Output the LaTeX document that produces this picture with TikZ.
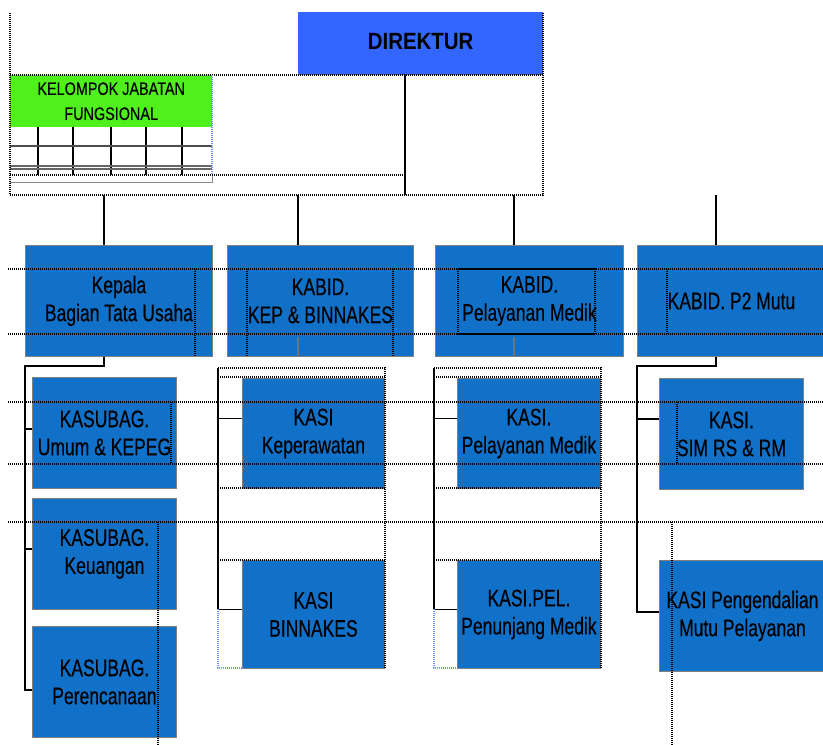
\documentclass[tikz,border=0pt]{standalone}
\usepackage{fontspec}
\setmainfont{Liberation Sans}
\newfontfamily\chartfont[FakeStretch=0.73, FakeBold=0.3]{Liberation Sans}
\newfontfamily\greenfont[FakeStretch=0.8, FakeBold=0.3]{Liberation Sans}
\newfontfamily\headfont[FakeStretch=0.87]{Liberation Sans}
\usepackage{xcolor}
\usepackage{tikz}
\usetikzlibrary{positioning}
\definecolor{dirblue}{RGB}{51,102,255}
\definecolor{unitblue}{RGB}{17,112,200}
\definecolor{jfgreen}{RGB}{80,240,28}
\definecolor{frameblue}{RGB}{110,150,230}

\tikzset{
  unit/.style={draw=black!50, line width=0.9pt, fill=unitblue, anchor=north west,
    inner sep=0pt, align=center, font=\chartfont\fontsize{24}{28}\selectfont},
  kabid/.style={unit, minimum width=187pt, minimum height=111pt},
  kasub/.style={unit, minimum width=144pt, minimum height=111pt},
  kasi/.style={unit, minimum width=143pt, minimum height=110pt},
  link/.style={line width=1.3pt},
  stub/.style={line width=1.3pt, black!55},
  guide/.style={line width=1.1pt, dash pattern=on 1pt off 1pt},
}

\begin{document}
\begin{tikzpicture}[x=1pt, y=-1pt]
\clip (0,0) rectangle (823,745);
\fill[white] (0,0) rectangle (823,745);

% top part
\node[anchor=north west, fill=dirblue, minimum width=245pt, minimum height=63pt, inner sep=0pt,
  font=\headfont\bfseries\fontsize{23.5}{28}\selectfont] (dir) at (298,12) {\raisebox{5pt}{DIREKTUR}};
\node[anchor=north west, fill=jfgreen, minimum width=202pt, minimum height=52pt, inner sep=0pt,
  align=center, font=\greenfont\fontsize{18}{25}\selectfont] (jf) at (10,75) {KELOMPOK JABATAN\\ FUNGSIONAL};

% second row
\node[kabid] (tu) at (25,245) {Kepala\\ Bagian Tata Usaha};
\node[kabid, minimum width=186pt] (kep) at (227,245) {KABID.\\ KEP \& BINNAKES};
\node[kabid, minimum width=188pt] (yan) at (435,245) {KABID.\\ Pelayanan Medik};
\node[kabid, minimum width=188pt] (mutu) at (637,245) {KABID. P2 Mutu};

% third row
\node[kasub] (umum) at (32,377) {KASUBAG.\\ Umum \& KEPEG};
\node[kasub] (keu) at (32,498) {KASUBAG.\\ Keuangan};
\node[kasub] (ren) at (32,626) {KASUBAG.\\ Perencanaan};
\node[kasi, minimum width=142pt] (kper) at (242,378) {KASI\\ Keperawatan};
\node[kasi, minimum width=142pt, minimum height=108pt] (binn) at (242,560) {KASI\\ BINNAKES};
\node[kasi] (kyan) at (457,378) {KASI.\\ Pelayanan Medik};
\node[kasi, minimum height=108pt] (kpen) at (457,560) {KASI.PEL.\\ Penunjang Medik};
\node[kasi, minimum width=144pt, minimum height=111pt] (sim) at (659,378) {KASI.\\ SIM RS \& RM};
\node[kasi, minimum width=166pt, minimum height=111pt] (pmutu) at (659,560) {KASI Pengendalian\\ Mutu Pelayanan};

% connectors
\coordinate (bus) at (405,195);
\coordinate (b1) at (104,195);
\coordinate (b2) at (298,195);
\coordinate (b3) at (514,195);
\coordinate (b4) at (716,195);
\coordinate (t1) at (25,366);
\coordinate (t2) at (218,368);
\coordinate (t3) at (434,368);
\coordinate (t4) at (637,366);
\draw[link] (dir.south -| bus) -- (bus);
\draw[link] (b1) -- (b1 |- tu.north);
\draw[link] (b2) -- (b2 |- kep.north);
\draw[link] (b3) -- (b3 |- yan.north);
\draw[link] (b4) -- (b4 |- mutu.north);

\draw[link] (tu.south -| b1) |- (t1) |- ([yshift=-8pt]ren.west);
\draw[link] ([yshift=4pt]umum.west) -| (t1);
\draw[link] ([yshift=5pt]keu.west) -| (t1);

\draw[stub] (kep.south -| b2) -- ++(0,-20);
\draw[link] (t2) |- ([yshift=5pt]binn.west);
\draw[link] ([yshift=15pt]kper.west) -| (t2);

\draw[stub] (yan.south -| b3) -- ++(0,-20);
\draw[link] (t3) |- ([yshift=5pt]kpen.west);
\draw[link] ([yshift=15pt]kyan.west) -| (t3);

\draw[link] (mutu.south -| b4) |- (t4) |- ([yshift=4pt]pmutu.west);
\draw[link] ([yshift=15pt]sim.west) -| (t4);

% grid under the green box
\foreach \gx in {38,73,111,146,182}
  \draw[line width=1.1pt] (\gx,127) -- (\gx,175);
\draw[black!70, line width=1.2pt] (10,146) -- (212,146);
\draw[black!60, line width=1.2pt] (10,166) -- (212,166) (10,169) -- (212,169);
\draw[black!45, line width=1pt] (10,182) -- (212,182) -- (212,175);

% dotted guide lines
\draw[guide] (10,13) -- (10,195) -- (543,195) -- (543,12);
\draw[guide] (10,75) -- (543,75);
\draw[guide] (10,175) -- (bus |- 0,175);
\draw[guide, frameblue] (212,75) -- (212,175);
\foreach \gy in {269,334,402,464,522}
  \draw[guide] (8,\gy) -- (823,\gy);
\draw[guide] (195,269) -- (195,356);
\draw[guide] (247,269) -- (247,356) (393,269) -- (393,356);
\draw[guide] (458,269) rectangle (595,334);
\draw[guide] (667,269) -- (667,334);
\draw[guide] (171,402) -- (171,464);
\draw[guide] (158,522) -- (158,745);
\draw[guide] (677,402) -- (677,464);
\draw[guide] (672,522) -- (672,745);
\draw[guide] (218,368) -- (385,368) -- (385,668);
\draw[guide] (218,377) -- (385,377) (218,488) -- (385,488) (218,560) -- (385,560);
\draw[guide, frameblue] (218,609) -- (218,668) -- (242,668);
\draw[guide] (434,368) -- (601,368) -- (601,668);
\draw[guide] (434,377) -- (601,377) (434,488) -- (601,488) (434,560) -- (601,560);
\draw[guide, frameblue] (434,609) -- (434,668) -- (457,668);
\end{tikzpicture}
\end{document}
